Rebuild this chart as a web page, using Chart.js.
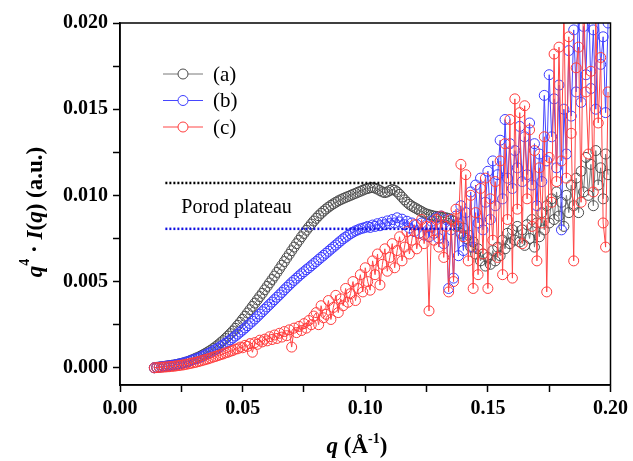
<!DOCTYPE html>
<html>
<head>
<meta charset="utf-8">
<script src="https://cdn.jsdelivr.net/npm/chart.js@4.4.1/dist/chart.umd.min.js"></script>
<style>
  html, body { margin: 0; padding: 0; background: #fff; }
  #wrap { width: 633px; height: 461px; }
</style>
</head>
<body>
<div id="wrap"><canvas id="chart" width="633" height="461"></canvas></div>
<script>
// scattering vector q (1/Å)
const q = [
  0.014, 0.015, 0.016, 0.017, 0.018, 0.019, 0.020, 0.021, 0.022, 0.023, 0.024, 0.025, 0.026, 0.027, 0.028, 0.029,
  0.030, 0.031, 0.032, 0.033, 0.034, 0.035, 0.036, 0.037, 0.038, 0.039, 0.040, 0.041, 0.042, 0.043, 0.044, 0.045,
  0.046, 0.047, 0.048, 0.049, 0.050, 0.051, 0.052, 0.053, 0.054, 0.055, 0.056, 0.057, 0.058, 0.059, 0.060, 0.061,
  0.062, 0.063, 0.064, 0.065, 0.066, 0.067, 0.068, 0.069, 0.070, 0.071, 0.072, 0.073, 0.074, 0.075, 0.076, 0.077,
  0.078, 0.079, 0.080, 0.081, 0.082, 0.083, 0.084, 0.085, 0.086, 0.087, 0.088, 0.089, 0.090, 0.091, 0.092, 0.093,
  0.094, 0.095, 0.096, 0.097, 0.098, 0.099, 0.100, 0.101, 0.102, 0.103, 0.104, 0.105, 0.106, 0.107, 0.108, 0.109,
  0.110, 0.111, 0.112, 0.113, 0.114, 0.115, 0.116, 0.117, 0.118, 0.119, 0.120, 0.121, 0.122, 0.123, 0.124, 0.125,
  0.126, 0.127, 0.128, 0.129, 0.130, 0.131, 0.132, 0.133, 0.134, 0.135, 0.136, 0.137, 0.138, 0.139, 0.140, 0.141,
  0.142, 0.143, 0.144, 0.145, 0.146, 0.147, 0.148, 0.149, 0.150, 0.151, 0.152, 0.153, 0.154, 0.155, 0.156, 0.157,
  0.158, 0.159, 0.160, 0.161, 0.162, 0.163, 0.164, 0.165, 0.166, 0.167, 0.168, 0.169, 0.170, 0.171, 0.172, 0.173,
  0.174, 0.175, 0.176, 0.177, 0.178, 0.179, 0.180, 0.181, 0.182, 0.183, 0.184, 0.185, 0.186, 0.187, 0.188, 0.189,
  0.190, 0.191, 0.192, 0.193, 0.194, 0.195, 0.196, 0.197, 0.198, 0.199
];

// q^4 * I(q), in units of 1e-3 (a.u.)
const Y_UNIT = 0.001;
const seriesA = [
  0.00, 0.02, 0.04, 0.06, 0.08, 0.10, 0.12, 0.14, 0.16, 0.19, 0.22, 0.25, 0.29, 0.33, 0.38, 0.44,
  0.50, 0.56, 0.62, 0.69, 0.77, 0.85, 0.93, 1.02, 1.12, 1.22, 1.33, 1.45, 1.57, 1.70, 1.84, 1.98,
  2.13, 2.29, 2.46, 2.63, 2.81, 2.99, 3.18, 3.37, 3.56, 3.75, 3.94, 4.13, 4.32, 4.52, 4.72, 4.92,
  5.12, 5.32, 5.53, 5.74, 5.95, 6.16, 6.37, 6.58, 6.79, 7.00, 7.20, 7.40, 7.60, 7.79, 7.98, 8.16,
  8.34, 8.51, 8.67, 8.82, 8.96, 9.09, 9.21, 9.32, 9.42, 9.51, 9.60, 9.68, 9.75, 9.82, 9.88, 9.94,
  10.00, 10.06, 10.12, 10.18, 10.24, 10.30, 10.36, 10.40, 10.44, 10.46, 10.42, 10.36, 10.28, 10.20, 10.16, 10.20,
  10.28, 10.34, 10.30, 10.20, 10.06, 9.90, 9.74, 9.60, 9.48, 9.38, 9.30, 9.22, 9.14, 9.06, 8.98, 8.92,
  8.88, 8.84, 8.80, 8.78, 8.76, 8.74, 8.72, 8.70, 8.66, 8.60, 8.50, 8.20, 8.40, 7.80, 8.10, 7.50,
  7.70, 7.00, 7.30, 6.60, 6.90, 6.20, 6.60, 5.90, 6.40, 6.00, 6.80, 6.20, 7.00, 6.50, 7.40, 6.90,
  7.80, 7.20, 8.00, 7.40, 8.20, 7.30, 8.00, 7.10, 8.30, 7.50, 8.60, 7.00, 8.40, 7.60, 9.00, 8.00,
  9.40, 8.40, 9.80, 8.60, 10.2, 8.80, 9.60, 8.20, 10.0, 9.00, 10.6, 9.40, 11.0, 9.00, 11.4, 10.2,
  12.2, 10.0, 11.8, 9.40, 12.6, 10.6, 11.6, 9.80, 12.4, 11.2
];
const seriesB = [
  0.00, 0.02, 0.04, 0.06, 0.08, 0.10, 0.12, 0.14, 0.16, 0.19, 0.22, 0.25, 0.29, 0.33, 0.37, 0.42,
  0.47, 0.52, 0.57, 0.63, 0.69, 0.76, 0.83, 0.90, 0.98, 1.06, 1.14, 1.23, 1.32, 1.42, 1.52, 1.62,
  1.73, 1.84, 1.95, 2.07, 2.19, 2.31, 2.44, 2.57, 2.70, 2.83, 2.97, 3.11, 3.25, 3.39, 3.53, 3.67,
  3.81, 3.95, 4.09, 4.23, 4.37, 4.52, 4.66, 4.80, 4.94, 5.07, 5.20, 5.33, 5.45, 5.57, 5.69, 5.80,
  5.92, 6.04, 6.16, 6.28, 6.40, 6.52, 6.64, 6.76, 6.88, 7.00, 7.12, 7.24, 7.36, 7.48, 7.58, 7.68,
  7.78, 7.86, 7.94, 8.00, 8.06, 8.10, 8.14, 8.20, 8.14, 8.28, 8.20, 8.36, 8.24, 8.44, 8.30, 8.52,
  8.36, 8.60, 8.40, 8.70, 8.46, 8.62, 8.30, 8.50, 8.10, 8.40, 7.90, 8.30, 7.80, 8.40, 7.70, 8.30,
  7.60, 8.50, 7.80, 8.70, 7.50, 8.80, 7.20, 8.60, 4.60, 8.00, 5.20, 8.80, 6.50, 9.40, 6.80, 9.00,
  7.40, 10.2, 7.00, 10.6, 8.40, 11.0, 8.00, 9.60, 11.4, 8.60, 12.0, 9.40, 11.2, 13.2, 9.80, 14.4,
  11.0, 13.0, 10.4, 12.6, 11.6, 14.0, 10.8, 13.4, 11.2, 14.2, 10.6, 13.0, 9.40, 12.4, 10.8, 15.8,
  12.0, 17.0, 13.4, 15.6, 11.6, 16.4, 8.00, 15.0, 12.4, 18.4, 14.6, 19.6, 16.0, 21.0, 15.4, 19.8,
  17.0, 22.0, 16.2, 19.6, 15.0, 20.4, 17.6, 19.2, 14.8, 20.0
];
const seriesC = [
  0.00, 0.01, 0.02, 0.03, 0.04, 0.05, 0.06, 0.08, 0.09, 0.11, 0.13, 0.15, 0.17, 0.20, 0.23, 0.26,
  0.29, 0.32, 0.36, 0.40, 0.44, 0.48, 0.52, 0.57, 0.62, 0.66, 0.71, 0.76, 0.80, 0.86, 0.90, 0.96,
  1.00, 1.08, 1.10, 1.20, 1.16, 1.30, 1.24, 1.40, 0.90, 1.46, 1.36, 1.60, 1.50, 1.66, 1.56, 1.80,
  1.64, 1.90, 1.70, 2.00, 1.78, 2.10, 1.86, 2.20, 1.20, 2.30, 2.04, 2.40, 2.16, 2.56, 2.30, 2.74,
  2.50, 3.00, 3.20, 2.50, 3.60, 2.90, 3.10, 3.90, 2.80, 3.50, 4.20, 3.20, 4.00, 3.60, 4.60, 3.80,
  4.30, 5.00, 3.90, 4.60, 5.40, 4.40, 5.80, 5.00, 4.50, 6.20, 5.40, 6.60, 4.80, 6.00, 6.90, 5.60,
  6.40, 7.20, 5.80, 6.80, 7.60, 6.20, 7.00, 7.90, 6.60, 7.40, 8.30, 6.90, 7.80, 8.60, 7.20, 8.20,
  3.30, 8.20, 7.40, 8.60, 7.00, 8.80, 6.40, 8.20, 4.40, 8.60, 5.00, 9.20, 8.20, 11.8, 7.60, 11.2,
  6.20, 10.0, 4.60, 9.00, 5.40, 10.4, 6.60, 11.0, 4.60, 9.80, 7.40, 10.8, 6.40, 12.0, 5.40, 13.0,
  8.60, 14.4, 5.20, 15.6, 9.20, 14.8, 7.20, 15.2, 9.80, 13.8, 8.20, 12.6, 6.20, 11.6, 8.40, 13.4,
  4.40, 12.2, 9.60, 18.2, 10.8, 18.6, 12.0, 21.0, 11.0, 19.2, 13.6, 6.20, 17.4, 18.6, 9.60, 22.0,
  16.0, 12.4, 17.2, 10.2, 20.4, 14.2, 18.0, 8.40, 7.00, 16.0
];

const seriesLabels = ['(a)', '(b)', '(c)'];
const seriesColors = ['rgb(75,75,75)', 'rgb(60,60,255)', 'rgb(255,60,60)'];
const lineColors = ['rgb(120,120,120)', 'rgb(70,70,255)', 'rgb(255,70,70)'];

// Porod plateau levels and extent
const plateauLevels = [0.01072, 0.00806];
const plateauColors = ['#000000', '#1010e0'];
const plateauRange = [0.0185, 0.1366];
const plateauLabel = 'Porod plateau';
const plateauLabelAt = { x: 0.0250, y: 0.00900 };

const xTicks = [0, 0.025, 0.05, 0.075, 0.10, 0.125, 0.15, 0.175, 0.20];
const yTicks = [0, 0.0025, 0.005, 0.0075, 0.010, 0.0125, 0.015, 0.0175, 0.020];

const FONT = '"Liberation Serif", "Times New Roman", serif';

function toPoints(values) {
    return q.map((x, i) => ({ x: x, y: values[i] * Y_UNIT }));
}

const seriesData = [seriesA, seriesB, seriesC];
const datasets = seriesData.map((vals, i) => ({
    label: seriesLabels[i],
    data: toPoints(vals),
    showLine: true,
    borderColor: lineColors[i],
    borderWidth: 1,
    pointRadius: 5,
    pointBorderWidth: 1,
    pointBorderColor: seriesColors[i],
    pointBackgroundColor: 'rgba(0,0,0,0)',
    order: 3 - i,
}));

plateauLevels.forEach((lvl, i) => {
    datasets.push({
        label: 'plateau' + i,
        data: [{ x: plateauRange[0], y: lvl }, { x: plateauRange[1], y: lvl }],
        showLine: true,
        borderColor: plateauColors[i],
        borderWidth: 2.5,
        borderDash: [2, 2],
        pointRadius: 0,
        order: 0,
    });
});

// Frame, legend, annotation text and axis titles
const decorPlugin = {
    id: 'decor',
    afterDraw(chart) {
        const ctx = chart.ctx;
        const area = chart.chartArea;
        const xs = chart.scales.x;
        const ys = chart.scales.y;

        ctx.save();
        ctx.strokeStyle = '#000';
        ctx.lineWidth = 1.5;
        ctx.strokeRect(area.left, area.top, area.right - area.left, area.bottom - area.top);

        // legend
        const legY = [74, 100.5, 127];
        for (let i = 0; i < 3; i++) {
            const y = legY[i];
            ctx.strokeStyle = lineColors[i];
            ctx.lineWidth = 1;
            ctx.beginPath();
            ctx.moveTo(163, y);
            ctx.lineTo(203, y);
            ctx.stroke();
            ctx.fillStyle = '#fff';
            ctx.strokeStyle = seriesColors[i];
            ctx.beginPath();
            ctx.arc(183, y, 5, 0, Math.PI * 2);
            ctx.fill();
            ctx.stroke();
            ctx.fillStyle = '#000';
            ctx.font = '21px ' + FONT;
            ctx.textBaseline = 'middle';
            ctx.textAlign = 'left';
            ctx.fillText(seriesLabels[i], 213, y + 1);
        }

        // plateau label
        ctx.font = '20px ' + FONT;
        ctx.textBaseline = 'alphabetic';
        ctx.fillText(plateauLabel, xs.getPixelForValue(plateauLabelAt.x), ys.getPixelForValue(plateauLabelAt.y));

        // x title
        drawPieces(ctx, 357, 453, [
            { t: 'q', f: 'italic bold 23px ' + FONT },
            { t: ' (Å', f: 'bold 23px ' + FONT },
            { t: '-1', f: 'bold 14px ' + FONT, dy: -10 },
            { t: ')', f: 'bold 23px ' + FONT },
        ]);

        // y title
        ctx.translate(42, 212);
        ctx.rotate(-Math.PI / 2);
        drawPieces(ctx, 0, 0, [
            { t: 'q', f: 'italic bold 23px ' + FONT },
            { t: '4', f: 'bold 14px ' + FONT, dy: -13 },
            { t: ' · ', f: 'bold 23px ' + FONT },
            { t: 'I', f: 'italic bold 23px ' + FONT },
            { t: '(', f: 'bold 23px ' + FONT },
            { t: 'q', f: 'italic bold 23px ' + FONT },
            { t: ') (a.u.)', f: 'bold 23px ' + FONT },
        ]);
        ctx.restore();
    }
};

function drawPieces(ctx, cx, baseY, pieces) {
    let total = 0;
    pieces.forEach(p => { ctx.font = p.f; p.w = ctx.measureText(p.t).width; total += p.w; });
    let x = cx - total / 2;
    ctx.fillStyle = '#000';
    ctx.textAlign = 'left';
    ctx.textBaseline = 'alphabetic';
    pieces.forEach(p => {
        ctx.font = p.f;
        ctx.fillText(p.t, x, baseY + (p.dy || 0));
        x += p.w;
    });
}

const tickFont = { family: FONT, size: 20, weight: 'bold' };

new Chart(document.getElementById('chart').getContext('2d'), {
    type: 'scatter',
    data: { datasets: datasets },
    options: {
        responsive: false,
        animation: false,
        layout: { padding: { top: 23, right: 21, left: 0, bottom: 0 } },
        plugins: {
            legend: { display: false },
            tooltip: { enabled: false },
        },
        scales: {
            x: {
                type: 'linear',
                min: 0,
                max: 0.2,
                afterBuildTicks: (scale) => { scale.ticks = xTicks.map(v => ({ value: v })); },
                afterFit: (scale) => { scale.height = 76; },
                ticks: {
                    font: tickFont,
                    color: '#000',
                    padding: 5,
                    maxRotation: 0,
                    callback: (v) => (Math.abs(v / 0.05 - Math.round(v / 0.05)) < 1e-6 ? v.toFixed(2) : ''),
                },
                grid: { drawOnChartArea: false, tickLength: 7, tickColor: '#000', tickWidth: 1.5 },
                border: { color: '#000', width: 1.5 },
            },
            y: {
                type: 'linear',
                min: -0.001,
                max: 0.020,
                afterBuildTicks: (scale) => { scale.ticks = yTicks.map(v => ({ value: v })); },
                afterFit: (scale) => { scale.width = 120; },
                ticks: {
                    font: tickFont,
                    color: '#000',
                    padding: 5,
                    callback: (v) => (Math.abs(v / 0.005 - Math.round(v / 0.005)) < 1e-6 ? v.toFixed(3) : ''),
                },
                grid: { drawOnChartArea: false, tickLength: 7, tickColor: '#000', tickWidth: 1.5 },
                border: { color: '#000', width: 1.5 },
            },
        },
    },
    plugins: [decorPlugin],
});
</script>
</body>
</html>
